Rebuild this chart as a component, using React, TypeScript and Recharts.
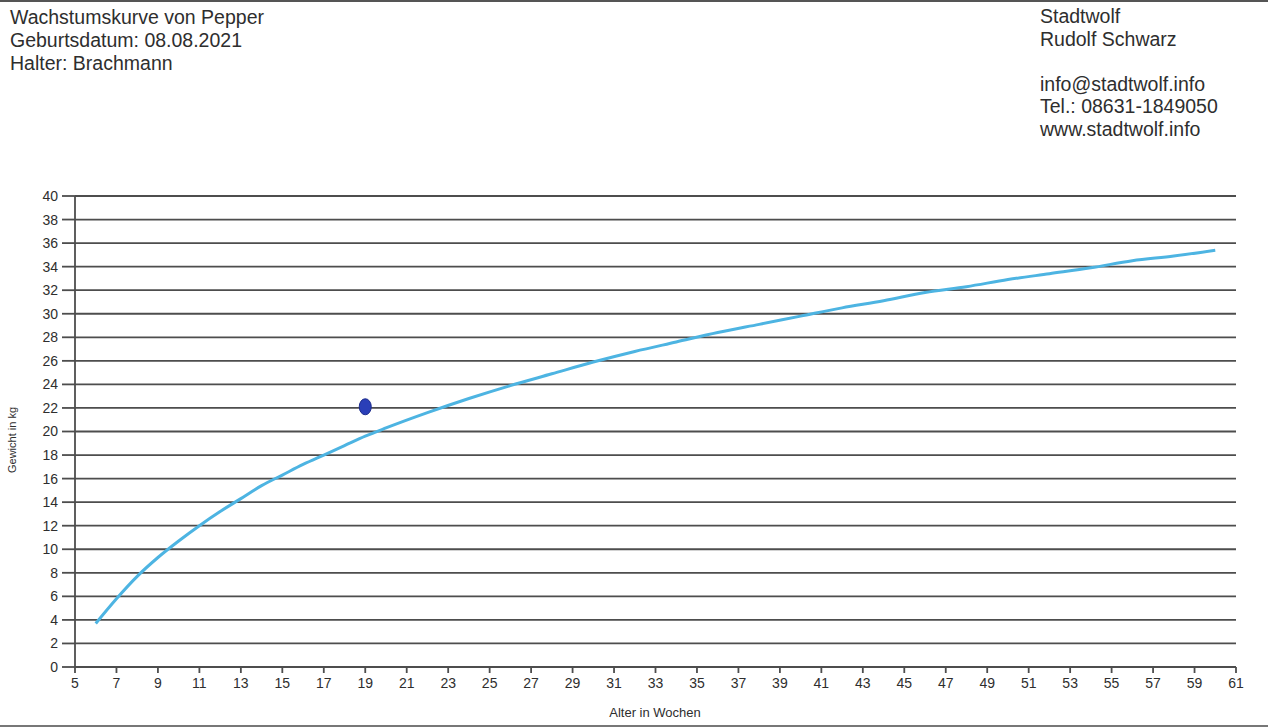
import React from 'react';
import { ComposedChart, Line, Scatter, XAxis, YAxis, CartesianGrid } from 'recharts';

const weeks = [6, 7, 8, 9, 10, 11, 12, 13, 14, 15, 16, 17, 18, 19, 20, 22, 24, 26, 28, 30, 32, 34, 36, 38, 40, 42, 44, 46, 48, 50, 52, 54, 56, 58, 60];
const curveKg = [3.7, 5.8, 7.7, 9.3, 10.7, 12.0, 13.2, 14.3, 15.4, 16.3, 17.2, 18.0, 18.8, 19.6, 20.3, 21.6, 22.8, 23.9, 24.9, 25.9, 26.8, 27.6, 28.4, 29.1, 29.8, 30.5, 31.1, 31.8, 32.3, 32.9, 33.4, 33.9, 34.5, 34.9, 35.4];
const measuredWeeks = [19];
const measuredKg = [22.1];
const xTicks = [5, 7, 9, 11, 13, 15, 17, 19, 21, 23, 25, 27, 29, 31, 33, 35, 37, 39, 41, 43, 45, 47, 49, 51, 53, 55, 57, 59, 61];
const yTicks = [0, 2, 4, 6, 8, 10, 12, 14, 16, 18, 20, 22, 24, 26, 28, 30, 32, 34, 36, 38, 40];

const leftHeader = ['Wachstumskurve von Pepper', 'Geburtsdatum: 08.08.2021', 'Halter: Brachmann'];
const rightHeader = ['Stadtwolf', 'Rudolf Schwarz', '', 'info@stadtwolf.info', 'Tel.: 08631-1849050', 'www.stadtwolf.info'];

const curveData = weeks.map((w, i) => ({ week: w, kg: curveKg[i] }));
const pointData = measuredWeeks.map((w, i) => ({ week: w, kg: measuredKg[i] }));

const FONT = '"Liberation Sans", Arial, sans-serif';
const GRID = '#4d4d4d';
const TEXT = '#2e2e2e';

const Blob = (props: any) => {
  const { cx, cy } = props;
  if (cx == null || cy == null) return null;
  return <ellipse cx={cx} cy={cy} rx={6} ry={8} fill="#2a3fb8" stroke="#1d2c8c" strokeWidth={1} />;
};

export default function App() {
  return (
    <div style={{ position: 'absolute', left: 0, top: 0, width: 1268, height: 728, background: '#fff', fontFamily: FONT, overflow: 'hidden' }}>
      <div style={{ position: 'absolute', left: 0, top: 0, width: 1268, height: 2, background: '#555' }} />
      <div style={{ position: 'absolute', left: 0, top: 725, width: 1268, height: 2, background: '#777' }} />
      <div style={{ position: 'absolute', left: 10, top: 6, fontSize: 19.5, lineHeight: '23px', color: TEXT }}>
        {leftHeader.map((t, i) => <div key={i}>{t}</div>)}
      </div>
      <div style={{ position: 'absolute', left: 1040, top: 5, fontSize: 19.5, lineHeight: '22.5px', color: TEXT }}>
        {rightHeader.map((t, i) => <div key={i} style={{ height: 22.5 }}>{t}</div>)}
      </div>
      <div style={{ position: 'absolute', left: 12, top: 440, width: 0, height: 0 }}>
        <div style={{ position: 'absolute', transform: 'translate(-50%, -50%) rotate(-90deg)', whiteSpace: 'nowrap', fontSize: 11, color: TEXT }}>Gewicht in kg</div>
      </div>
      <div style={{ position: 'absolute', left: 655, top: 712, width: 0, height: 0 }}>
        <div style={{ position: 'absolute', transform: 'translate(-50%, -50%)', whiteSpace: 'nowrap', fontSize: 13, color: TEXT }}>Alter in Wochen</div>
      </div>
      <div style={{ position: 'absolute', left: 0, top: 0 }}>
        <ComposedChart width={1268} height={728} margin={{ top: 196, right: 32, bottom: 31, left: 15 }}>
          <CartesianGrid horizontal={true} vertical={false} stroke={GRID} strokeWidth={1.8} horizontalValues={yTicks} />
          <XAxis
            type="number"
            dataKey="week"
            domain={[5, 61]}
            ticks={xTicks}
            interval={0}
            height={30}
            allowDataOverflow
            stroke={GRID}
            strokeWidth={1.8}
            tickSize={6}
            tickMargin={5}
            tick={{ fill: TEXT, fontSize: 14, fontFamily: FONT }}
          />
          <YAxis
            type="number"
            domain={[0, 40]}
            ticks={yTicks}
            interval={0}
            width={60}
            stroke={GRID}
            strokeWidth={1.8}
            tickSize={13}
            tickMargin={4}
            tick={{ fill: TEXT, fontSize: 14, fontFamily: FONT }}
          />
          <Line data={curveData} dataKey="kg" type="monotone" stroke="#4db4e2" strokeWidth={3} dot={false} isAnimationActive={false} />
          <Scatter data={pointData} dataKey="kg" shape={<Blob />} isAnimationActive={false} />
        </ComposedChart>
      </div>
    </div>
  );
}
